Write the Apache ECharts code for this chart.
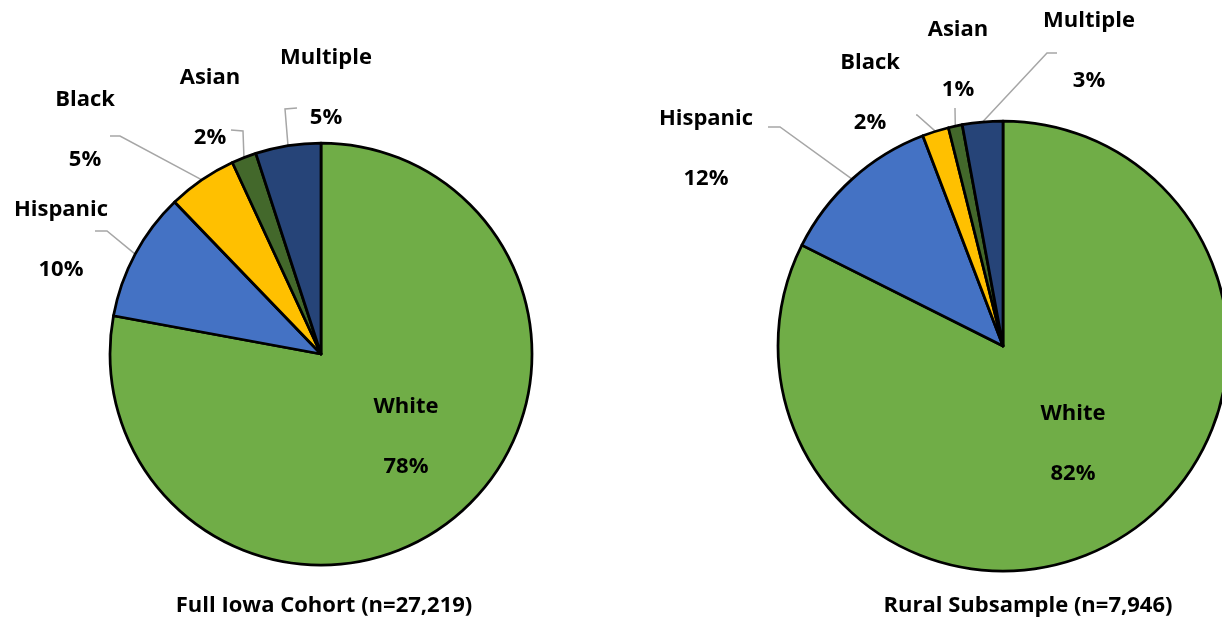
<!DOCTYPE html>
<html>
<head>
<meta charset="utf-8">
<script src="https://cdn.jsdelivr.net/npm/echarts@6/dist/echarts.min.js"></script>
<style>
html,body{margin:0;padding:0;background:#fff;}
#chart{width:1222px;height:618px;}
</style>
</head>
<body>
<div id="chart"></div>
<script>
// ---- data ----
const categories = ['White', 'Hispanic', 'Black', 'Asian', 'Multiple'];
const fullCohortValues = [77.9, 9.9, 5.3, 1.9, 5.0];
const ruralValues = [82.4, 11.8, 1.9, 1.0, 2.9];
const chartTitles = ['Full Iowa Cohort (n=27,219)', 'Rural Subsample (n=7,946)'];

// ---- styles / layout ----
const colors = ['#70AD47', '#4472C4', '#FFC000', '#43682B', '#264478'];
const FONT = '"Open Sans", "Noto Sans", sans-serif';

// label centre positions and leader elbows (layout only)
const labelLayouts = [
  [ // left pie
    { x: 406, y: 437 },
    { x: 61, y: 240, line: [[107, 231], [95, 231]] },
    { x: 85, y: 130, line: [[120, 136], [110, 136]] },
    { x: 210, y: 108, line: [[243, 131], [231, 130]] },
    { x: 326, y: 88, line: [[285, 109], [297, 108]] }
  ],
  [ // right pie
    { x: 1073, y: 444 },
    { x: 706, y: 149, line: [[780, 127], [768, 127]] },
    { x: 870, y: 93, line: [[917, 115], [916, 115]] },
    { x: 958, y: 60, line: [[955, 109], [955, 108]] },
    { x: 1089, y: 51, line: [[1047, 53], [1057, 53]] }
  ]
];

function buildData(values) {
  return categories.map((name, i) => ({
    name: name,
    value: values[i],
    itemStyle: { color: colors[i] },
    labelLine: { show: i !== 0 }
  }));
}

function makeSeries(values, idx, center, radius) {
  return {
    type: 'pie',
    center: center,
    radius: radius,
    startAngle: 90,
    clockwise: true,
    avoidLabelOverlap: false,
    animation: false,
    silent: true,
    data: buildData(values),
    itemStyle: { borderColor: '#000', borderWidth: 2.75 },
    label: {
      show: true,
      position: 'outside',
      formatter: p => p.name + '\n\n' + Math.round(p.value) + '%',
      fontFamily: FONT,
      fontWeight: 'bold',
      fontSize: 22,
      lineHeight: 30,
      color: '#000',
      align: 'center'
    },
    labelLine: {
      show: true,
      length: 10,
      length2: 10,
      lineStyle: { color: '#A6A6A6', width: 1.5 }
    },
    labelLayout: function (params) {
      const lay = labelLayouts[idx][params.dataIndex];
      const out = { x: lay.x, y: lay.y, align: 'center', verticalAlign: 'middle' };
      if (lay.line && params.labelLinePoints && params.labelLinePoints[0]) {
        out.labelLinePoints = [params.labelLinePoints[0], lay.line[0], lay.line[1]];
      }
      return out;
    }
  };
}

const chart = echarts.init(document.getElementById('chart'), null, { renderer: 'canvas' });
chart.setOption({
  backgroundColor: '#fff',
  animation: false,
  title: [
    { text: chartTitles[0], left: 319, top: 590, textAlign: 'center',
      textStyle: { fontFamily: FONT, fontWeight: 'bold', fontSize: 22, color: '#000' } },
    { text: chartTitles[1], left: 1023, top: 590, textAlign: 'center',
      textStyle: { fontFamily: FONT, fontWeight: 'bold', fontSize: 22, color: '#000' } }
  ],
  series: [
    makeSeries(fullCohortValues, 0, [321, 354], 211),
    makeSeries(ruralValues, 1, [1003, 346], 225)
  ]
});
</script>
</body>
</html>
